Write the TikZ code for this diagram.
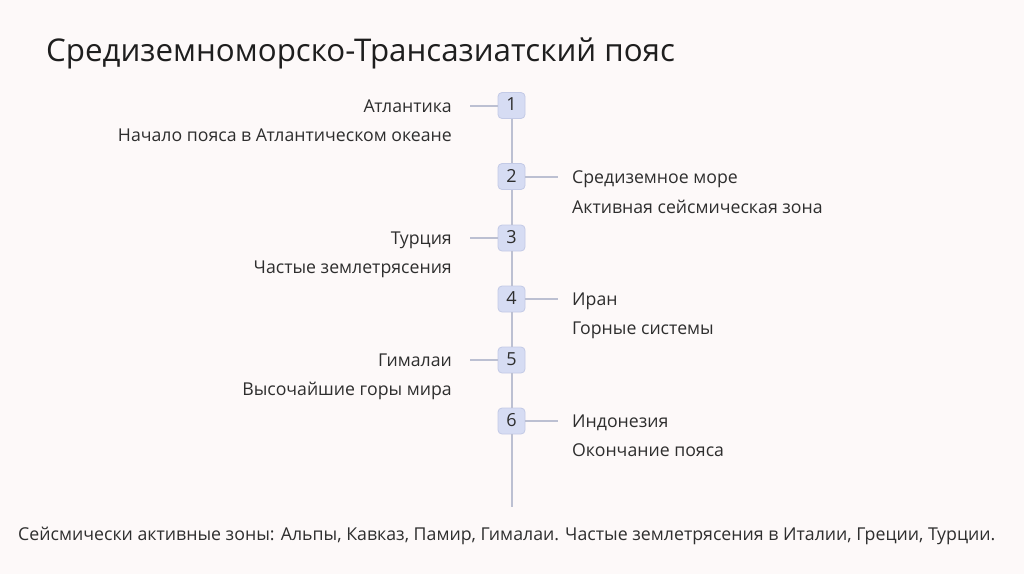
\documentclass[tikz,border=0pt]{standalone}
\usepackage{fontspec}
\setmainfont{Open Sans}
\usepackage{graphicx}
\definecolor{bg}{HTML}{FDF9F9}
\definecolor{txt}{HTML}{2E2E2E}
\definecolor{ttl}{HTML}{1E1E1E}
\definecolor{boxfill}{HTML}{D6DCF3}
\definecolor{boxline}{HTML}{C3CAE6}
\definecolor{linec}{HTML}{BCC0D2}
\begin{document}
\begin{tikzpicture}[x=1pt,y=-1pt,
  lbl/.style={inner sep=0pt,text=txt,font=\fontsize{17.7}{20}\selectfont},
  numbox/.style={draw=boxline,fill=boxfill,line width=0.8pt,rounded corners=4pt,minimum width=27pt,minimum height=26pt,inner sep=0pt,text=txt,font=\fontsize{18}{20}\selectfont},
  conn/.style={draw=linec,line width=2pt}]
\fill[bg] (0,0) rectangle (1024,574);
\useasboundingbox (0,0) rectangle (1024,574);
\node[anchor=base west,inner sep=0pt,text=ttl,font=\fontsize{31.3}{36}\selectfont] (title) at (46,61) {Средиземноморско-Трансазиатский пояс};
% boxes
\node[numbox] (b1) at (511.5,105.5) {\raisebox{2pt}{1}};
\node[numbox] (b2) at (511.5,176.5) {\raisebox{2pt}{2}};
\node[numbox] (b3) at (511.5,238) {\raisebox{2pt}{3}};
\node[numbox] (b4) at (511.5,299) {\raisebox{2pt}{4}};
\node[numbox] (b5) at (511.5,360) {\raisebox{2pt}{5}};
\node[numbox] (b6) at (511.5,421) {\raisebox{2pt}{6}};
\coordinate (bot) at (511.5,507);
\draw[conn] (b1.south) -- (b2.north);
\draw[conn] (b2.south) -- (b3.north);
\draw[conn] (b3.south) -- (b4.north);
\draw[conn] (b4.south) -- (b5.north);
\draw[conn] (b5.south) -- (b6.north);
\draw[conn] (b6.south) -- (bot);
% side connectors
\coordinate (c1) at (470,105.5);
\coordinate (c2) at (558,176.5);
\coordinate (c3) at (470,238);
\coordinate (c4) at (558,299);
\coordinate (c5) at (470,360);
\coordinate (c6) at (558,421);
\draw[conn] (c1) -- (b1.west);
\draw[conn] (b2.east) -- (c2);
\draw[conn] (c3) -- (b3.west);
\draw[conn] (b4.east) -- (c4);
\draw[conn] (c5) -- (b5.west);
\draw[conn] (b6.east) -- (c6);
% left labels
\node[lbl,anchor=base east] (t1) at (452,112) {Атлантика};
\node[lbl,anchor=base east] (s1) at (452,141) {Начало пояса в Атлантическом океане};
\node[lbl,anchor=base east] (t3) at (452,244) {Турция};
\node[lbl,anchor=base east] (s3) at (452,273) {Частые землетрясения};
\node[lbl,anchor=base east] (t5) at (452,366) {Гималаи};
\node[lbl,anchor=base east] (s5) at (452,395) {Высочайшие горы мира};
% right labels
\node[lbl,anchor=base west] (t2) at (572,183) {Средиземное море};
\node[lbl,anchor=base west] (s2) at (572,213) {Активная сейсмическая зона};
\node[lbl,anchor=base west] (t4) at (572,305) {Иран};
\node[lbl,anchor=base west] (s4) at (572,334) {Горные системы};
\node[lbl,anchor=base west] (t6) at (572,427) {Индонезия};
\node[lbl,anchor=base west] (s6) at (572,456) {Окончание пояса};
% footer
\node[anchor=base west,inner sep=0pt,text=txt,font=\fontsize{17.5}{20}\selectfont] (foot) at (18,540) {\resizebox{977pt}{!}{Сейсмически активные зоны: Альпы, Кавказ, Памир, Гималаи. Частые землетрясения в Италии, Греции, Турции.}};
\end{tikzpicture}
\end{document}
